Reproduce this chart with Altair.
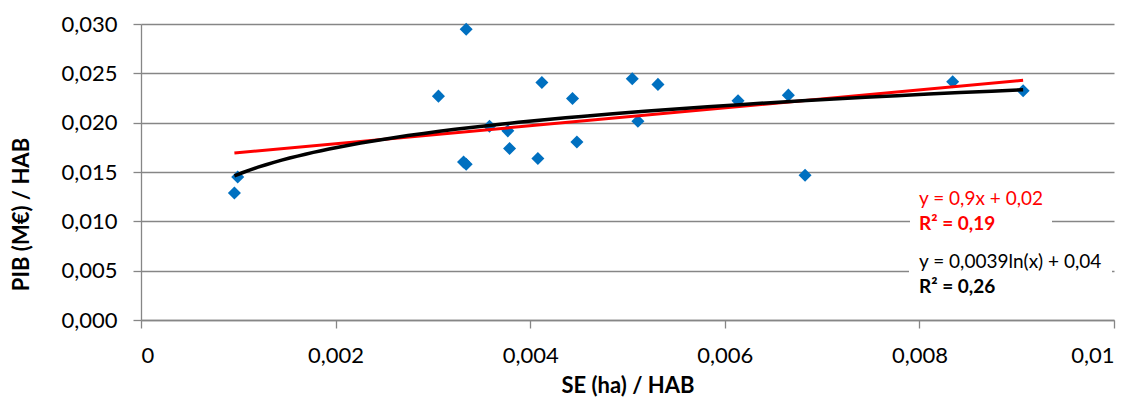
import altair as alt
import pandas as pd

# SE (ha) / HAB  and  PIB (M€) / HAB
se_ha_hab = [0.000960, 0.000994, 0.003057, 0.003315, 0.003342, 0.003342,
             0.003582, 0.003770, 0.003788, 0.004079, 0.004120, 0.004435,
             0.004480, 0.005049, 0.005107, 0.005313, 0.006136, 0.006653,
             0.006825, 0.008342, 0.009066]
pib_hab = [0.01287, 0.01450, 0.02269, 0.01602, 0.01579, 0.02946,
           0.01964, 0.01917, 0.01738, 0.01637, 0.02408, 0.02246,
           0.01805, 0.02445, 0.02015, 0.02388, 0.02221, 0.02279,
           0.01467, 0.02414, 0.02323]

x_ticks = [0, 0.002, 0.004, 0.006, 0.008, 0.01]
y_ticks = [0, 0.005, 0.010, 0.015, 0.020, 0.025, 0.030]

lin_eq = "y = 0,9x + 0,02"
lin_r2 = "R² = 0,19"
log_eq = "y = 0,0039ln(x) + 0,04"
log_r2 = "R² = 0,26"

df = pd.DataFrame({"x": se_ha_hab, "y": pib_hab})

GRID = "#868686"

xenc = alt.X(
    "x:Q",
    scale=alt.Scale(domain=[0, 0.01], nice=False, zero=True),
    axis=alt.Axis(
        values=x_ticks,
        title="SE (ha) / HAB",
        grid=False,
        labelExpr="replace(format(datum.value, '.3~f'), '.', ',')",
        tickSize=8,
        labelPadding=17,
        titleY=72,
        titleBaseline="alphabetic",
    ),
)
yenc = alt.Y(
    "y:Q",
    scale=alt.Scale(domain=[0, 0.03], nice=False, zero=True),
    axis=alt.Axis(
        values=y_ticks,
        title="PIB (M€) / HAB",
        grid=True,
        labelExpr="replace(format(datum.value, '.3f'), '.', ',')",
        tickSize=8,
        labelPadding=16,
        titleX=-113,
        titleY=190,
        titleAlign="center",
        titleBaseline="alphabetic",
        titleAngle=270,
    ),
)

base = alt.Chart(df).encode(x=xenc, y=yenc)

points = base.mark_point(shape="diamond", filled=True, size=170,
                         color="#0070C0", opacity=1)
lin = base.transform_regression("x", "y", method="linear").mark_line(
    color="#FF0000", strokeWidth=3)
log = base.transform_regression("x", "y", method="log").mark_line(
    color="#000000", strokeWidth=3.5)

one = alt.Data(values=[{"k": 1}])

box_lin = alt.Chart(one).mark_rect(color="white").encode(
    x=alt.value(769), x2=alt.value(911), y=alt.value(161), y2=alt.value(212))
box_log = alt.Chart(one).mark_rect(color="white").encode(
    x=alt.value(768), x2=alt.value(971), y=alt.value(223), y2=alt.value(274))


def label(txt, yv, color, bold=False):
    return alt.Chart(one).mark_text(
        align="left", baseline="middle", font="Lato", fontSize=19,
        color=color, fontWeight="bold" if bold else "normal",
    ).encode(x=alt.value(778), y=alt.value(yv), text=alt.value(txt))


chart = alt.layer(
    points, lin, log, box_lin, box_log,
    label(lin_eq, 174.5, "#FF0000"),
    label(lin_r2, 199.5, "#FF0000", True),
    label(log_eq, 238, "#000000"),
    label(log_r2, 263, "#000000", True),
).properties(
    width=973, height=296,
    autosize=alt.AutoSizeParams(type="none"),
    padding={"left": 133, "top": 16, "right": 10, "bottom": 79},
).configure_view(stroke=None).configure_axis(
    labelFont="Lato", labelFontSize=22, labelColor="#000000",
    titleFont="Lato", titleFontSize=22, titleFontWeight="bold",
    titleColor="#000000",
    domainColor=GRID, domainWidth=1.3, tickColor=GRID, tickWidth=1.3,
    gridColor=GRID, gridWidth=1.3, gridOpacity=1,
)

chart.save("out.html", embed_options={"renderer": "svg", "actions": False})
